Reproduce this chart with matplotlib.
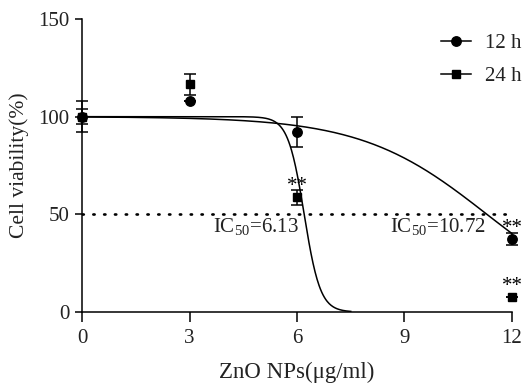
import numpy as np
import matplotlib
matplotlib.use("Agg")
import matplotlib.pyplot as plt

plt.rcParams['font.family'] = ['Liberation Serif', 'DejaVu Serif']
plt.rcParams['mathtext.fontset'] = 'custom'
plt.rcParams['mathtext.rm'] = 'Liberation Serif'

conc = [0, 3, 6, 12]
v12 = [100, 108, 92.3, 37.2]
e12 = [8, 0, 7.7, 3]
v24 = [100, 116.5, 58.7, 7.5]
e24 = [4, 5.5, 3.8, 0]

ic50_12 = 10.72
ic50_24 = 6.13
# fitted curve parameters (logistic)
fit_mid_12, fit_k_12 = 11.3, 0.57
fit_mid_24, fit_k_24 = 6.2, 4.45

fig = plt.figure(figsize=(5.32, 3.85), dpi=100)
ax = fig.add_axes([82/532, 1-312/385, 430/532, 293/385])

x1 = np.linspace(0, 12, 400)
ax.plot(x1, 100/(1+np.exp(fit_k_12*(x1-fit_mid_12))), color='black', lw=1.1)
x2 = np.linspace(0, 7.5, 400)
ax.plot(x2, 100/(1+np.exp(fit_k_24*(x2-fit_mid_24))), color='black', lw=1.1)

ax.plot([0, 12], [50, 50], color='black', lw=1.9, ls=(0, (0.5, 3.6)), dash_capstyle='round')

ax.errorbar(conc, v12, yerr=e12, fmt='o', color='black', ms=6.8, capsize=4, elinewidth=1.1, capthick=1.1, clip_on=False, zorder=5)
ax.errorbar(conc, v24, yerr=e24, fmt='s', color='black', ms=5.5, capsize=4, elinewidth=1.1, capthick=1.1, clip_on=False, zorder=5)

ax.plot([], [], marker='o', color='black', ms=6.8, lw=1.1, label='12 h')
ax.plot([], [], marker='s', color='black', ms=5.5, lw=1.1, label='24 h')
leg = ax.legend(loc='upper right', bbox_to_anchor=(1.065, 1.015), frameon=False, fontsize=15,
                handlelength=1.45, labelspacing=0.65, handletextpad=0.65)
for t in leg.get_texts():
    t.set_color('#222222')

fs = 15
ax.text(6.13 - 0.07, 43.5, r'IC$_{50}$=6.13', ha='right', va='center', fontsize=fs, color='#222222')
ax.text(11.27, 43.5, r'IC$_{50}$=10.72', ha='right', va='center', fontsize=fs, color='#222222')
ax.text(6, 64.5, '**', ha='center', va='center', fontsize=fs)
ax.text(12, 43, '**', ha='center', va='center', fontsize=fs, clip_on=False)
ax.text(12, 13, '**', ha='center', va='center', fontsize=fs, clip_on=False)

ax.set_xlim(0, 12)
ax.set_ylim(0, 150)
ax.set_xticks([0, 3, 6, 9, 12])
ax.set_yticks([0, 50, 100, 150])
ax.tick_params(axis='x', direction='out', length=7, width=1.1, labelsize=15, pad=5, labelcolor='#222222')
ax.tick_params(axis='y', direction='out', length=5, width=1.1, labelsize=15, pad=4, labelcolor='#222222')
for s in ['top', 'right']:
    ax.spines[s].set_visible(False)
for s in ['left', 'bottom']:
    ax.spines[s].set_linewidth(1.1)

ax.set_xlabel('ZnO NPs(μg/ml)', fontsize=16.5, color='#222222', labelpad=10)
ax.set_ylabel('Cell viability(%)', fontsize=15.5, color='#222222', labelpad=7)

fig.savefig('out.png', dpi=100)
